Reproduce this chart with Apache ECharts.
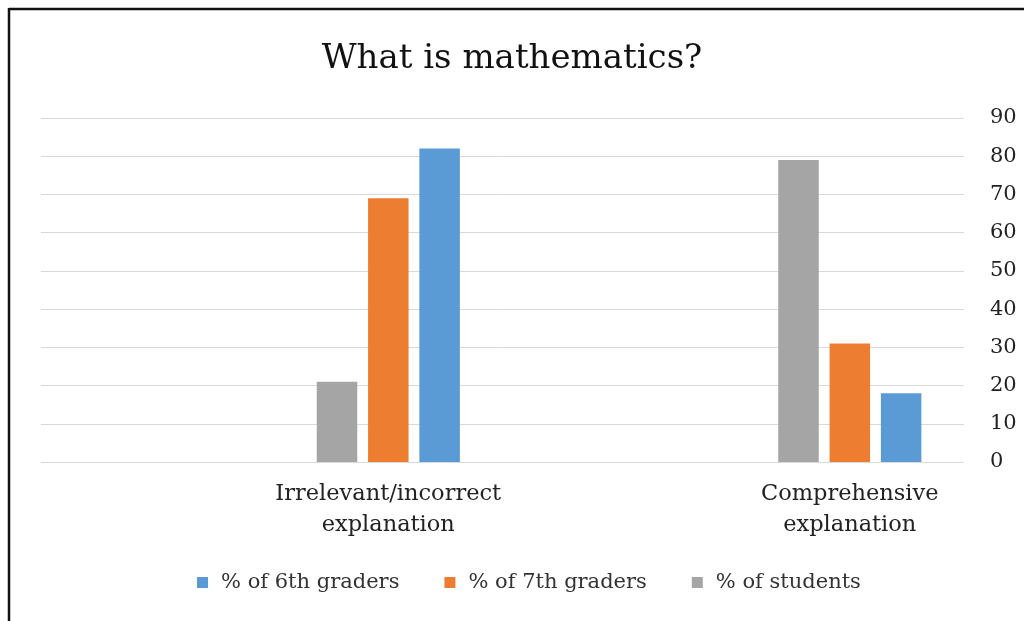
<!DOCTYPE html>
<html>
<head>
<meta charset="utf-8">
<script src="https://cdn.jsdelivr.net/npm/echarts@6/dist/echarts.min.js"></script>
<style>
html,body{margin:0;padding:0;background:#fff;}
#chart{width:1024px;height:621px;}
</style>
</head>
<body>
<div id="chart"></div>
<script>
const titleText = 'What is mathematics?';
const categories = ['Irrelevant/incorrect\nexplanation', 'Comprehensive\nexplanation'];
const students = [21, 79];
const grade7 = [69, 31];
const grade6 = [82, 18];
const yTicks = [0, 10, 20, 30, 40, 50, 60, 70, 80, 90];

const FONT = 'DejaVu Serif';
const chart = echarts.init(document.getElementById('chart'));
chart.setOption({
  animation: false,
  backgroundColor: '#fff',
  title: {
    text: titleText,
    left: 'center',
    top: 37,
    textStyle: { fontFamily: FONT, fontSize: 34, fontWeight: 'normal', color: '#111' }
  },
  legend: {
    data: ['% of 6th graders', '% of 7th graders', '% of students'],
    left: 192,
    top: 567,
    itemWidth: 11,
    itemHeight: 11,
    itemGap: 45,
    icon: 'rect',
    textStyle: { fontFamily: FONT, fontSize: 21, color: '#333', padding: [0, 0, 0, 8] }
  },
  grid: { left: 41, right: 60, top: 118, bottom: 159, containLabel: false },
  xAxis: {
    type: 'category',
    data: categories,
    axisLine: { show: false },
    axisTick: { show: false },
    axisLabel: { fontFamily: FONT, fontSize: 22.5, lineHeight: 31, color: '#222', margin: 17, padding: [0, 0, 0, 233] }
  },
  yAxis: {
    type: 'value',
    position: 'right',
    min: yTicks[0],
    max: yTicks[yTicks.length - 1],
    interval: 10,
    axisLine: { show: false },
    axisTick: { show: false },
    axisLabel: { fontFamily: FONT, fontSize: 21, color: '#222', margin: 26 },
    splitLine: { lineStyle: { color: '#d9d9d9', width: 1 } }
  },
  series: [
    { name: 'placeholder', type: 'bar', data: ['-', '-'], barWidth: 184, barGap: '26.7%', silent: true },
    { name: '% of students', type: 'bar', data: students, barWidth: 40.5, barGap: '26.7%', itemStyle: { color: '#A5A5A5' } },
    { name: '% of 7th graders', type: 'bar', data: grade7, barWidth: 40.5, barGap: '26.7%', itemStyle: { color: '#ED7D31' } },
    { name: '% of 6th graders', type: 'bar', data: grade6, barWidth: 40.5, barGap: '26.7%', itemStyle: { color: '#5B9BD5' } }
  ],
  graphic: [
    { type: 'line', shape: { x1: 9, y1: 9, x2: 1024, y2: 9 }, style: { stroke: '#111', lineWidth: 2.5 } },
    { type: 'line', shape: { x1: 9, y1: 8, x2: 9, y2: 621 }, style: { stroke: '#111', lineWidth: 2.5 } }
  ]
});
</script>
</body>
</html>
